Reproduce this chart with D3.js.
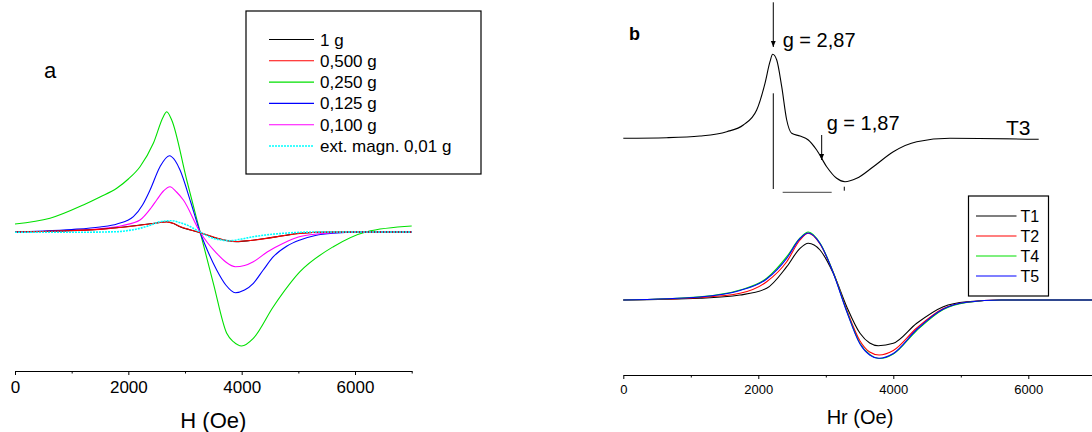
<!DOCTYPE html>
<html>
<head>
<meta charset="utf-8">
<script src="https://cdn.jsdelivr.net/npm/d3@7"></script>
<style>
  body { margin: 0; background: #fff; }
  svg, svg text { font-family: 'Liberation Sans', Arial, sans-serif; }
  .axis path, .axis line { stroke: #000; stroke-width: 1; }
  .axis text { fill: #000; }
</style>
</head>
<body>
<div id="chart"></div>
<script>
// ---- panel a : EPR spectra, H (Oe) vs signal (a.u.) ----
var black1g = [[0, 0], [800, 1], [1500, 2.7], [2206, 7], [2500, 9], [2677, 10.3], [2800, 8.5], [2912, 5.3],
  [3100, 2], [3265, -0.7], [3559, -6.3], [3750, -8.8], [3912, -9.7], [4150, -8.5], [4441, -6.3], [4750, -3.5],
  [5029, -1.3], [5600, 0], [7000, 0]]
var red500 = [[0, 0], [800, 1], [1500, 2.6], [2206, 6.8], [2500, 9], [2677, 10.1], [2800, 8.4], [2912, 5.4],
  [3100, 2], [3265, -0.6], [3559, -6], [3750, -8.6], [3912, -9.5], [4150, -8.5], [4441, -6.4], [4750, -3.6],
  [5029, -1.4], [5600, 0], [7000, 0]]
var green250 = [[0, 8], [618, 13.7], [1205, 27], [1500, 35], [1795, 43.7], [2000, 53], [2206, 65.3],
  [2441, 88.7], [2617, 115.3], [2677, 120.3], [2765, 112], [3030, 52], [3265, 0.3], [3500, -51.3],
  [3736, -101.3], [3853, -109.7], [4000, -114], [4205, -106.3], [4558, -74.7], [5029, -39.7], [5617, -14.7],
  [6206, 0.3], [7000, 6]]
var blue125 = [[0, 0], [500, 1], [1000, 2.5], [1500, 5], [1800, 8], [2089, 15.3], [2250, 27], [2383, 42],
  [2559, 65.3], [2723, 76.3], [2830, 71], [2912, 62], [3100, 30], [3265, 0], [3400, -19], [3559, -38],
  [3720, -53], [3888, -60.7], [4050, -58], [4206, -51.3], [4380, -38], [4559, -24.7], [4800, -14],
  [5029, -8], [5300, -3.5], [5612, -1.3], [6200, 0], [7000, 0]]
var magenta100 = [[0, 0], [800, 1], [1500, 3.3], [1900, 6.5], [2206, 12], [2400, 24], [2500, 32],
  [2620, 41], [2735, 45.3], [2850, 40], [2971, 32], [3265, 0], [3400, -11], [3559, -21.3], [3720, -30],
  [3888, -34.7], [4050, -33.5], [4206, -29.7], [4450, -20], [4735, -11.3], [5000, -5], [5324, -2],
  [6000, 0], [7000, 0]]
var cyanExt = [[0, -0.3], [1000, -0.3], [1795, 0.3], [2000, 1.5], [2206, 3.7], [2400, 7], [2559, 10.3],
  [2765, 11.3], [2900, 9.5], [3030, 7], [3265, 0], [3500, -6.3], [3650, -8], [3794, -8.7], [4000, -7],
  [4206, -4.7], [4450, -2.8], [4735, -1.3], [5300, 0], [7000, 0]]

var seriesA = [
  { name: '1 g', color: '#000000', dash: null, values: black1g },
  { name: '0,500 g', color: '#ff0000', dash: null, values: red500 },
  { name: '0,250 g', color: '#00e000', dash: null, values: green250 },
  { name: '0,125 g', color: '#0000ff', dash: null, values: blue125 },
  { name: '0,100 g', color: '#ff00ff', dash: null, values: magenta100 },
  { name: 'ext. magn. 0,01 g', color: '#00ffff', dash: '2,1', values: cyanExt }
]
var drawOrderA = [2, 3, 4, 0, 1, 5]

// ---- panel b : Hr (Oe) ----
var t3 = [[0, 0], [643, 0.6], [1136, 2.3], [1532, 6.6], [1778, 13.3], [1976, 28.3], [2099, 55], [2173, 76.6],
  [2213, 84], [2273, 78.3], [2347, 51.6], [2421, 18.3], [2495, 5], [2618, 2.3], [2741, -1.7], [2865, -11.7],
  [3013, -28.4], [3161, -40], [3284, -43.4], [3458, -40], [3704, -28.4], [4000, -13.4], [4347, -3.4],
  [4840, 0], [6154, -1]]
var t1 = [[0, 0], [1136, 1.7], [1729, 5], [2124, 11.7], [2421, 33.3], [2618, 51.7], [2741, 56.7], [2914, 50],
  [3111, 26.7], [3310, -6.7], [3507, -33.3], [3650, -43], [3778, -45.7], [4000, -43.3], [4347, -23.3],
  [4741, -6.7], [5087, -1.7], [5600, 0], [7000, 0]]
var t2 = [[0, 0], [1136, 2.5], [1729, 6.7], [2124, 18.3], [2421, 38.3], [2618, 60], [2741, 66.7], [2914, 56],
  [3111, 27.5], [3310, -10], [3507, -41], [3650, -52], [3790, -55], [4000, -50.5], [4347, -28],
  [4741, -8.5], [5087, -2.2], [5600, 0], [7000, 0]]
var t4 = [[0, 0], [1136, 3.3], [1729, 10], [2124, 21.7], [2421, 43.3], [2618, 62], [2741, 68], [2914, 57],
  [3111, 27.5], [3310, -11], [3507, -43.5], [3650, -54.5], [3800, -58.5], [4000, -54], [4347, -30.5],
  [4741, -9.5], [5087, -2.5], [5600, 0], [7000, 0]]
var t5 = [[0, 0], [1136, 3], [1729, 9.5], [2124, 21], [2421, 41.7], [2618, 61.5], [2741, 67], [2914, 56.5],
  [3111, 27], [3310, -11.5], [3507, -44], [3650, -55], [3785, -58.3], [4000, -53.5], [4347, -29.5],
  [4741, -9], [5087, -2.3], [5600, 0], [7000, 0]]

var seriesB = [
  { name: 'T1', color: '#000000', values: t1 },
  { name: 'T2', color: '#ff0000', values: t2 },
  { name: 'T4', color: '#00e000', values: t4 },
  { name: 'T5', color: '#0000ff', values: t5 }
]

var tickMajor = [0, 2000, 4000, 6000]
var tickMinor = [1000, 3000, 5000, 7000]
var fontFamily = "'Liberation Sans', Arial, sans-serif"

var width = 1092
var height = 432

var svg = d3.select('#chart')
  .append('svg')
  .attr('width', width)
  .attr('height', height)

function drawAxis(g, scale, y, size) {
  g.append('g')
    .attr('class', 'axis')
    .attr('transform', 'translate(0,' + y + ')')
    .call(d3.axisBottom(scale).tickValues(tickMajor).tickSize(4).tickSizeOuter(0).tickPadding(6)
      .tickFormat(d3.format('d')))
    .attr('font-family', fontFamily)
    .attr('font-size', size)
  g.append('g')
    .attr('class', 'axis')
    .attr('transform', 'translate(0,' + y + ')')
    .call(d3.axisBottom(scale).tickValues(tickMinor).tickSize(2.5).tickSizeOuter(0).tickFormat(''))
    .call(function(a) { a.select('.domain').remove() })
}

// ================= panel a =================
var xA = d3.scaleLinear().domain([0, 7000]).range([15, 411.7])
var yA = d3.scaleLinear().domain([-140, 140]).range([372, 92])

var lineA = d3.line()
  .x(function(d) { return xA(d[0]) })
  .y(function(d) { return yA(d[1]) })
  .curve(d3.curveMonotoneX)

var gA = svg.append('g')

drawOrderA.forEach(function(i) {
  var s = seriesA[i]
  gA.append('path')
    .datum(s.values)
    .attr('d', lineA)
    .attr('fill', 'none')
    .attr('stroke', s.color)
    .attr('stroke-width', s.dash ? 1.6 : 1.1)
    .attr('stroke-dasharray', s.dash)
})

drawAxis(gA, xA, 371, 17)

gA.append('text')
  .text('H (Oe)')
  .attr('x', (xA(0) + xA(7000)) / 2)
  .attr('y', 428)
  .attr('text-anchor', 'middle')
  .attr('font-size', 22)

gA.append('text')
  .text('a')
  .attr('x', 44)
  .attr('y', 78)
  .attr('font-size', 22)

// legend a
var legA = gA.append('g').attr('transform', 'translate(246,11)')
legA.append('rect')
  .attr('width', 235)
  .attr('height', 163)
  .attr('fill', '#fff')
  .attr('stroke', '#000')
  .attr('stroke-width', 1.2)
seriesA.forEach(function(s, i) {
  var cy = 28.5 + i * 21.3
  legA.append('line')
    .attr('x1', 23).attr('x2', 68)
    .attr('y1', cy).attr('y2', cy)
    .attr('stroke', s.color)
    .attr('stroke-width', s.dash ? 1.6 : 1.1)
    .attr('stroke-dasharray', s.dash)
  legA.append('text')
    .text(s.name)
    .attr('x', 74)
    .attr('y', cy + 6)
    .attr('font-size', 17)
})

// ================= panel b =================
var xB = d3.scaleLinear().domain([0, 7000]).range([623.3, 1095.8])
var yB = d3.scaleLinear().domain([-75, 300]).range([375, 0])
var t3Offset = 161.7

var lineB = d3.line()
  .x(function(d) { return xB(d[0]) })
  .y(function(d) { return yB(d[1]) })
  .curve(d3.curveMonotoneX)

var gB = svg.append('g')

gB.append('path')
  .datum(t3.map(function(d) { return [d[0], d[1] + t3Offset] }))
  .attr('d', lineB)
  .attr('fill', 'none')
  .attr('stroke', '#000')
  .attr('stroke-width', 1.1)

seriesB.forEach(function(s) {
  gB.append('path')
    .datum(s.values)
    .attr('d', lineB)
    .attr('fill', 'none')
    .attr('stroke', s.color)
    .attr('stroke-width', 1.1)
})

// annotations on T3
gB.append('defs').append('marker')
  .attr('id', 'arrow')
  .attr('viewBox', '0 0 10 10')
  .attr('refX', 10).attr('refY', 5)
  .attr('markerWidth', 6).attr('markerHeight', 6)
  .attr('orient', 'auto')
  .append('path')
  .attr('d', 'M0,1 L10,5 L0,9 Z')
  .attr('fill', '#000')

var arrows = [
  { x: 2222, from: 136, to: 91.3 },
  { x: 2939, from: 3.3, to: -21.7 }
]
arrows.forEach(function(a) {
  gB.append('line')
    .attr('x1', xB(a.x)).attr('x2', xB(a.x))
    .attr('y1', yB(a.from + t3Offset)).attr('y2', yB(a.to + t3Offset))
    .attr('stroke', '#000')
    .attr('stroke-width', 1)
    .attr('marker-end', 'url(#arrow)')
})

gB.append('line')
  .attr('x1', xB(2222)).attr('x2', xB(2222))
  .attr('y1', yB(45 + t3Offset)).attr('y2', yB(-50.7 + t3Offset))
  .attr('stroke', '#000').attr('stroke-width', 1)
gB.append('line')
  .attr('x1', xB(2361)).attr('x2', xB(3087))
  .attr('y1', yB(-54 + t3Offset)).attr('y2', yB(-54 + t3Offset))
  .attr('stroke', '#444').attr('stroke-width', 1)
gB.append('line')
  .attr('x1', xB(3274)).attr('x2', xB(3274))
  .attr('y1', yB(-48.4 + t3Offset)).attr('y2', yB(-52.4 + t3Offset))
  .attr('stroke', '#000').attr('stroke-width', 1)

gB.append('text').text('g = 2,87')
  .attr('x', xB(2361)).attr('y', 46.5).attr('font-size', 20)
gB.append('text').text('g = 1,87')
  .attr('x', xB(3013)).attr('y', 130).attr('font-size', 20)
gB.append('text').text('T3')
  .attr('x', 1006).attr('y', 135).attr('font-size', 21)
gB.append('text').text('b')
  .attr('x', 629).attr('y', 40).attr('font-size', 18).attr('font-weight', 'bold')

drawAxis(gB, xB, 375, 13)

gB.append('text')
  .text('Hr (Oe)')
  .attr('x', 860)
  .attr('y', 424)
  .attr('text-anchor', 'middle')
  .attr('font-size', 20)

// legend b
var legB = gB.append('g').attr('transform', 'translate(968.5,196)')
legB.append('rect')
  .attr('width', 80)
  .attr('height', 100)
  .attr('fill', '#fff')
  .attr('stroke', '#000')
  .attr('stroke-width', 1.2)
seriesB.forEach(function(s, i) {
  var cy = 20 + i * 20
  legB.append('line')
    .attr('x1', 7.5).attr('x2', 48)
    .attr('y1', cy).attr('y2', cy)
    .attr('stroke', s.color)
    .attr('stroke-width', 1.1)
  legB.append('text')
    .text(s.name)
    .attr('x', 52)
    .attr('y', cy + 6)
    .attr('font-size', 16)
})
</script>
</body>
</html>
